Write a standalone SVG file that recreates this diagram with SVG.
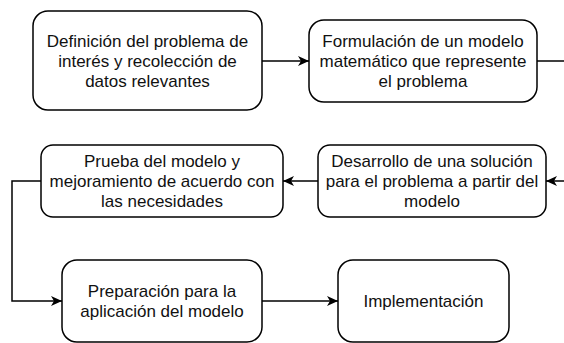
<svg xmlns="http://www.w3.org/2000/svg" width="564" height="343" viewBox="0 0 564 343">
<style>
.box{fill:#fff;stroke:#000;stroke-width:1.5}
.t{font-family:"Liberation Sans",Arial,sans-serif;font-size:17px;fill:#111;text-anchor:middle}
.c{fill:none;stroke:#000;stroke-width:1.5}
</style>
<defs>
<marker id="ah" markerUnits="userSpaceOnUse" markerWidth="12" markerHeight="10" viewBox="0 0 12 10" refX="11" refY="5" orient="auto">
<path d="M0,0 L11,5 L0,10 L3,5 Z" fill="#000"/>
</marker>
</defs>
<rect width="564" height="343" fill="#fff"/>
<g id="n1"><rect class="box" x="33" y="11" width="229" height="99" rx="15"/>
<text class="t" x="147.5" y="47">Definición del problema de</text>
<text class="t" x="147.5" y="67">interés y recolección de</text>
<text class="t" x="147.5" y="87">datos relevantes</text></g>
<g id="n2"><rect class="box" x="309" y="20" width="228" height="82" rx="15"/>
<text class="t" x="423" y="47">Formulación de un modelo</text>
<text class="t" x="423" y="67">matemático que represente</text>
<text class="t" x="423" y="87">el problema</text></g>
<g id="n3"><rect class="box" x="41" y="145" width="242" height="72" rx="12"/>
<text class="t" x="162" y="167">Prueba del modelo y</text>
<text class="t" x="162" y="187">mejoramiento de acuerdo con</text>
<text class="t" x="162" y="207">las necesidades</text></g>
<g id="n4"><rect class="box" x="318" y="145" width="228" height="72" rx="12"/>
<text class="t" x="432" y="167">Desarrollo de una solución</text>
<text class="t" x="432" y="187">para el problema a partir del</text>
<text class="t" x="432" y="207">modelo</text></g>
<g id="n5"><rect class="box" x="62" y="260" width="200" height="82" rx="15"/>
<text class="t" x="162" y="297">Preparación para la</text>
<text class="t" x="162" y="317">aplicación del modelo</text></g>
<g id="n6"><rect class="box" x="338" y="260" width="171" height="82" rx="15"/>
<text class="t" x="423.5" y="307">Implementación</text></g>
<g id="connectors">
<path class="c" d="M262,61 H309" marker-end="url(#ah)"/>
<path class="c" d="M537,61 H564"/>
<path class="c" d="M564,181 H546" marker-end="url(#ah)"/>
<path class="c" d="M318,181 H283" marker-end="url(#ah)"/>
<path class="c" d="M41,181 H12 V301 H62" marker-end="url(#ah)"/>
<path class="c" d="M262,301 H338" marker-end="url(#ah)"/>
</g>
</svg>
